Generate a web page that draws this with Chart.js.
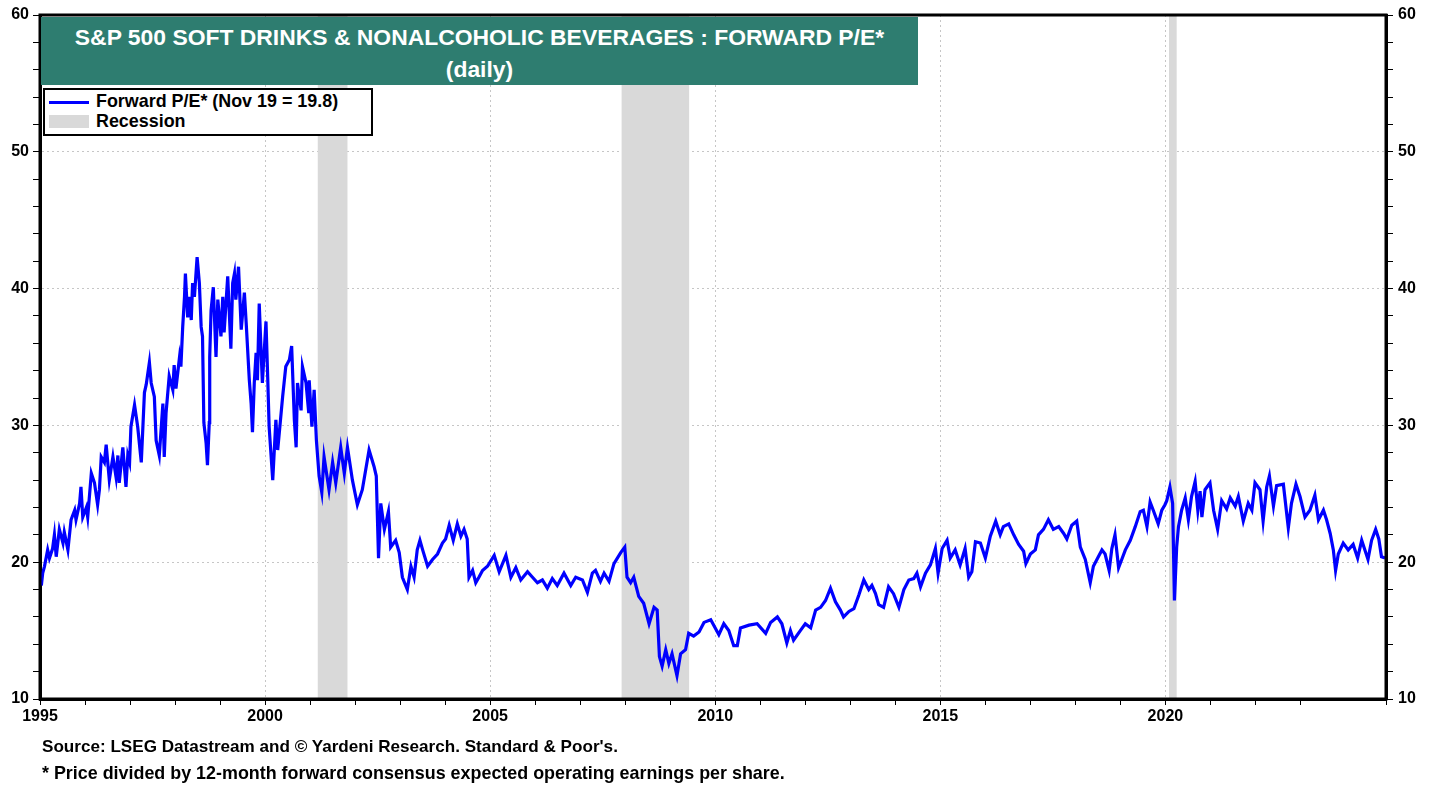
<!DOCTYPE html>
<html>
<head>
<meta charset="utf-8">
<script src="https://cdn.jsdelivr.net/npm/chart.js@4.4.1/dist/chart.umd.min.js"></script>
<style>
  body { margin: 0; background: #ffffff; }
  #wrap { position: relative; width: 1438px; height: 787px; font-family: "Liberation Sans", Arial, sans-serif; font-weight: bold; }
  #c { position: absolute; left: 0; top: 0; }
  #title { position: absolute; left: 41px; top: 17px; width: 877px; height: 68px; background: rgb(46,125,112); color: #fff; text-align: center; }
  #title .l1 { font-size: 22.9px; line-height: 40px; height: 40px; white-space: nowrap; }
  #title .l2 { font-size: 22.9px; line-height: 24px; height: 24px; }
  #legend { position: absolute; left: 43px; top: 88px; width: 330px; height: 48px; box-sizing: border-box; border: 2px solid #000; background: #fff; }
  #legend .row { position: absolute; left: 0; height: 20px; font-size: 17.9px; line-height: 20px; white-space: nowrap; }
  #legend .sw-line { position: absolute; left: 4px; width: 40px; height: 3px; background: #0000ff; }
  #legend .sw-box { position: absolute; left: 4px; width: 40px; height: 13px; background: #d9d9d9; }
  #legend .txt { position: absolute; left: 51px; }
  .note { position: absolute; left: 42px; line-height: 20px; white-space: nowrap; color: #000; }
</style>
</head>
<body>
<div id="wrap">
  <canvas id="c" width="1438" height="787"></canvas>
  <div id="title"><div class="l1">S&amp;P 500 SOFT DRINKS &amp; NONALCOHOLIC BEVERAGES : FORWARD P/E*</div><div class="l2">(daily)</div></div>
  <div id="legend">
    <div class="sw-line" style="top:11px"></div>
    <div class="row txt" style="top:1px">Forward P/E* (Nov 19 = 19.8)</div>
    <div class="sw-box" style="top:25px"></div>
    <div class="row txt" style="top:21px">Recession</div>
  </div>
  <div class="note" style="top:737px; font-size:17.1px">Source: LSEG Datastream and © Yardeni Research. Standard &amp; Poor's.</div>
  <div class="note" style="top:763px; font-size:17.9px">* Price divided by 12-month forward consensus expected operating earnings per share.</div>
</div>
<script>
// ---- Data (decimal years, forward P/E) ----
const years = [
1995.03,1995.06,1995.10,1995.17,1995.21,1995.28,1995.32,1995.36,1995.43,1995.51,1995.54,1995.62,1995.69,1995.77,1995.80,1995.88,1995.91,1995.95,
1996.03,1996.06,1996.14,1996.21,1996.28,1996.32,1996.36,1996.43,1996.47,1996.54,1996.62,1996.69,1996.73,1996.76,1996.84,1996.91,1996.95,1996.99,
1997.02,1997.10,1997.17,1997.25,1997.32,1997.36,1997.43,1997.47,1997.54,1997.58,1997.65,1997.73,1997.76,1997.80,1997.87,1997.95,1997.98,
1998.02,1998.10,1998.13,1998.17,1998.21,1998.23,1998.28,1998.32,1998.36,1998.39,1998.43,1998.49,1998.54,1998.58,1998.61,1998.64,1998.69,1998.72,1998.76,1998.77,1998.80,1998.85,1998.91,1998.95,
1999.02,1999.06,1999.09,1999.17,1999.24,1999.28,1999.32,1999.35,1999.41,1999.47,1999.54,1999.58,1999.65,1999.69,1999.72,1999.76,1999.80,1999.83,1999.87,1999.91,1999.94,
2000.02,2000.06,2000.09,2000.17,2000.24,2000.28,2000.39,2000.46,2000.54,2000.59,2000.65,2000.69,2000.72,2000.80,2000.83,2000.91,2000.97,2000.98,
2001.04,2001.09,2001.14,2001.20,2001.26,2001.31,2001.42,2001.50,2001.57,2001.68,2001.76,2001.83,2001.94,
2002.05,2002.16,2002.31,2002.42,2002.47,2002.52,2002.57,2002.65,2002.74,2002.79,2002.90,2002.98,
2003.05,2003.16,2003.24,2003.31,2003.38,2003.44,2003.50,2003.61,2003.72,2003.83,2003.94,
2004.01,2004.09,2004.18,2004.27,2004.35,2004.42,2004.49,2004.53,2004.61,2004.68,2004.75,2004.83,2004.94,
2005.09,2005.20,2005.35,2005.46,2005.57,2005.68,2005.83,2005.94,
2006.05,2006.16,2006.27,2006.38,2006.49,2006.64,2006.79,2006.90,
2007.05,2007.16,2007.27,2007.34,2007.45,2007.53,2007.64,2007.75,2007.90,2007.99,
2008.04,2008.12,2008.19,2008.30,2008.41,2008.53,2008.64,2008.71,2008.76,2008.82,2008.90,2008.97,
2009.04,2009.15,2009.23,2009.34,2009.41,2009.52,2009.64,2009.75,2009.90,
2010.08,2010.19,2010.30,2010.41,2010.49,2010.56,2010.75,2010.93,
2011.12,2011.23,2011.38,2011.48,2011.59,2011.67,2011.74,2011.89,
2012.00,2012.12,2012.23,2012.34,2012.45,2012.56,2012.67,2012.78,2012.85,2012.97,
2013.08,2013.19,2013.30,2013.41,2013.48,2013.56,2013.63,2013.74,2013.85,2013.96,
2014.08,2014.19,2014.30,2014.41,2014.48,2014.56,2014.67,2014.78,2014.89,2014.95,
2015.04,2015.15,2015.22,2015.33,2015.44,2015.55,2015.63,2015.70,2015.78,2015.89,
2016.00,2016.11,2016.23,2016.33,2016.40,2016.52,2016.63,2016.74,2016.85,2016.90,
2017.00,2017.11,2017.18,2017.29,2017.40,2017.51,2017.63,2017.74,2017.81,2017.92,
2018.03,2018.11,2018.22,2018.33,2018.40,2018.51,2018.59,2018.66,2018.75,2018.81,2018.88,2018.96,
2019.03,2019.11,2019.22,2019.33,2019.44,2019.51,2019.59,2019.66,2019.73,2019.84,2019.92,2019.99,
2020.03,2020.10,2020.16,2020.20,2020.25,2020.29,2020.36,2020.44,2020.51,2020.58,2020.66,2020.72,2020.77,2020.81,2020.88,2020.99,
2021.07,2021.16,2021.25,2021.36,2021.44,2021.55,2021.62,2021.73,2021.84,2021.92,2021.99,
2022.10,2022.17,2022.25,2022.31,2022.40,2022.47,2022.62,2022.73,2022.80,2022.90,2022.99,
2023.10,2023.21,2023.32,2023.40,2023.51,2023.58,2023.66,2023.73,2023.78,2023.84,2023.95,
2024.06,2024.17,2024.27,2024.36,2024.50,2024.58,2024.67,2024.74,2024.80,2024.88
];
const forwardPE = [
18.3,19.2,19.7,20.9,20.3,21.0,22.0,20.4,22.4,21.4,22.2,20.9,23.1,23.8,23.1,24.3,25.5,23.3,
24.0,23.3,26.5,25.8,24.2,25.3,27.7,27.3,28.6,26.0,27.7,26.2,27.8,25.8,28.4,25.5,27.8,27.3,
29.9,31.5,29.9,27.3,32.4,33.0,34.6,33.1,32.1,28.9,27.8,31.6,27.7,30.9,33.6,32.6,34.4,
32.7,35.0,34.3,37.2,39.4,41.1,37.9,39.4,37.7,40.4,39.4,42.3,40.4,37.2,36.5,30.2,28.7,27.1,30.2,35.0,38.4,40.1,35.0,39.2,
36.5,39.4,36.8,40.9,35.6,40.4,41.1,39.2,41.6,37.0,39.7,37.5,33.3,31.6,29.5,33.1,35.3,33.3,38.9,35.5,33.1,
37.6,33.3,29.9,26.0,30.4,28.2,32.1,34.3,34.8,35.8,30.4,28.4,33.1,31.1,34.3,33.1,30.9,33.3,
29.9,32.6,28.9,26.3,25.1,27.7,25.3,27.3,25.8,28.4,26.5,28.4,26.0,
24.2,25.3,28.2,27.0,26.3,20.3,24.3,22.4,23.7,21.1,21.6,20.7,
18.9,18.0,19.7,18.9,20.9,21.6,20.9,19.7,20.2,20.6,21.4,
21.7,22.7,21.6,22.8,21.9,22.4,21.7,18.9,19.4,18.5,18.9,19.4,19.7,
20.5,19.3,20.5,18.9,19.6,18.7,19.3,18.9,
18.5,18.7,18.1,18.8,18.3,19.2,18.3,18.9,
18.7,17.8,19.2,19.4,18.6,19.2,18.6,19.9,20.7,21.1,
18.9,18.5,18.9,17.5,17.0,15.5,16.7,16.5,13.1,12.4,13.6,12.6,
13.3,11.7,13.3,13.6,14.8,14.6,14.9,15.6,15.8,
14.7,15.5,15.0,13.9,13.9,15.2,15.4,15.5,
14.8,15.6,16.0,15.5,14.1,15.0,14.3,15.0,
15.5,15.2,16.5,16.7,17.2,18.1,17.1,16.5,16.0,16.4,
16.6,17.6,18.7,18.0,18.3,17.7,16.9,16.7,18.2,17.7,
16.7,18.0,18.7,18.8,19.2,18.2,19.2,19.8,21.0,19.2,
21.0,21.6,20.3,20.9,19.8,21.0,18.9,19.3,21.5,21.4,
20.3,21.9,23.0,22.0,22.6,22.8,22.0,21.3,20.8,19.9,
20.6,20.9,22.0,22.4,23.1,22.4,22.6,22.1,21.7,22.7,
23.0,21.1,20.2,18.5,19.7,20.4,20.9,20.6,19.4,21.0,22.0,19.6,
20.2,20.9,21.6,22.6,23.7,23.8,22.6,24.4,23.8,22.8,23.8,24.2,
24.5,25.5,24.3,17.2,21.1,22.6,23.8,24.7,23.1,24.8,25.9,23.8,25.2,23.3,25.3,25.8,
23.8,22.4,24.5,23.9,24.7,24.1,24.8,23.0,24.3,23.8,25.8,
25.3,23.0,25.5,26.3,24.1,25.6,25.7,22.5,24.3,25.7,24.8,
23.3,23.8,24.9,23.1,23.8,23.1,22.1,20.9,19.4,20.6,21.4,
20.9,21.3,20.3,21.6,20.2,21.6,22.4,21.7,20.4,20.3
];
const recessionStart = [2001.17, 2007.92, 2020.08];
const recessionEnd   = [2001.83, 2009.42, 2020.25];
const xLabelYears = [1995, 2000, 2005, 2010, 2015, 2020];
const yLabelValues = [10, 20, 30, 40, 50, 60];
const xMin = 1995, xMax = 2024.9, yMin = 10, yMax = 60;

const FONT = { family: '"Liberation Sans", Arial, sans-serif', size: 16, weight: 'bold' };
const GRID = '#c6c6c6';

const recessionPlugin = {
  id: 'recessions',
  beforeDatasetsDraw(chart) {
    const { ctx, chartArea: a, scales: { x } } = chart;
    ctx.save();
    ctx.fillStyle = '#d9d9d9';
    for (let i = 0; i < recessionStart.length; i++) {
      const x1 = x.getPixelForValue(recessionStart[i]);
      const x2 = x.getPixelForValue(recessionEnd[i]);
      ctx.fillRect(x1, a.top, x2 - x1, a.bottom - a.top);
    }
    ctx.restore();
  },
  afterDraw(chart) {
    const { ctx, chartArea: a } = chart;
    ctx.save();
    ctx.strokeStyle = '#000';
    ctx.lineWidth = 3;
    ctx.strokeRect(a.left, a.top, a.right - a.left, a.bottom - a.top);
    ctx.restore();
  }
};

const isLabelX = v => xLabelYears.some(t => Math.abs(t - v) < 1e-6);
const isLabelY = v => yLabelValues.some(t => Math.abs(t - v) < 1e-6);

new Chart(document.getElementById('c'), {
  type: 'line',
  data: {
    datasets: [{
      label: 'Forward P/E* (Nov 19 = 19.8)',
      data: years.map((x, i) => ({ x, y: forwardPE[i] })),
      borderColor: '#0000ff',
      borderWidth: 3.2,
      pointRadius: 0,
      tension: 0,
      fill: false,
      yAxisID: 'y'
    }]
  },
  options: {
    responsive: false,
    animation: false,
    devicePixelRatio: 1,
    layout: { padding: { top: 15, left: 0, right: 0, bottom: 0 } },
    plugins: { legend: { display: false }, tooltip: { enabled: false }, title: { display: false } },
    scales: {
      x: {
        type: 'linear', min: xMin, max: xMax,
        afterFit(s) { s.height = 88; },
        ticks: {
          stepSize: 1, autoSkip: false, maxRotation: 0, minRotation: 0,
          color: '#000', font: FONT, padding: 2,
          callback: v => isLabelX(v) ? String(v) : ''
        },
        grid: {
          drawOnChartArea: true, drawTicks: true, tickLength: 6,
          color: c => (c.tick && isLabelX(c.tick.value) && c.tick.value !== xMin) ? GRID : 'rgba(0,0,0,0)',
          lineWidth: 1, tickColor: '#000', tickWidth: 1, tickBorderDash: [], tickBorderDashOffset: 0
        },
        border: { display: true, color: '#000', width: 3, dash: [2, 3] }
      },
      y: {
        type: 'linear', position: 'left', min: yMin, max: yMax,
        afterFit(s) { s.width = 40; },
        ticks: {
          stepSize: 2, autoSkip: false, color: '#000', font: FONT, padding: 4,
          callback: v => isLabelY(v) ? String(v) : ''
        },
        grid: {
          drawOnChartArea: true, drawTicks: true, tickLength: 7,
          color: c => (c.tick && isLabelY(c.tick.value) && c.tick.value !== yMin && c.tick.value !== yMax) ? GRID : 'rgba(0,0,0,0)',
          lineWidth: 1, tickColor: '#000', tickWidth: 1, tickBorderDash: [], tickBorderDashOffset: 0
        },
        border: { display: true, color: '#000', width: 3, dash: [2, 3] }
      },
      y2: {
        type: 'linear', position: 'right', min: yMin, max: yMax,
        afterFit(s) { s.width = 52; },
        ticks: {
          stepSize: 2, autoSkip: false, color: '#000', font: FONT, padding: 5,
          callback: v => isLabelY(v) ? String(v) : ''
        },
        grid: {
          drawOnChartArea: false, drawTicks: true, tickLength: 7,
          tickColor: '#000', tickWidth: 1, tickBorderDash: [], tickBorderDashOffset: 0
        },
        border: { display: true, color: '#000', width: 3 }
      }
    }
  },
  plugins: [recessionPlugin]
});
</script>
</body>
</html>
